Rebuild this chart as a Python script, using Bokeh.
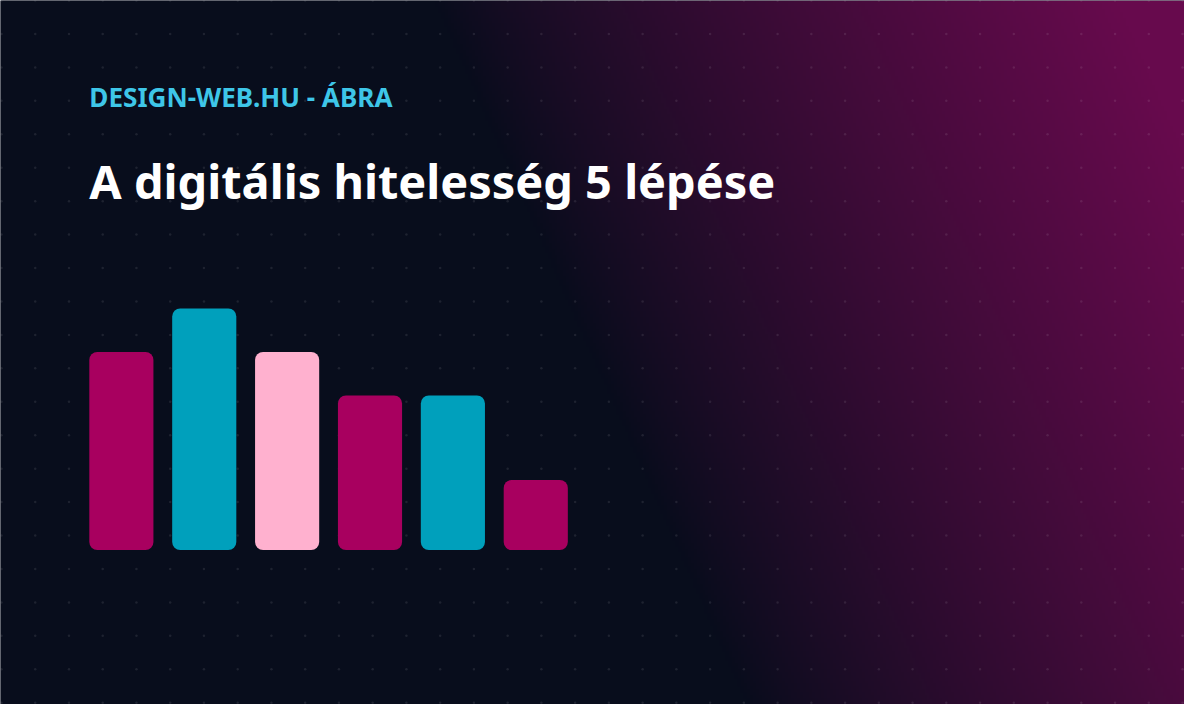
import numpy as np
from bokeh.plotting import figure
from bokeh.models import Range1d, Label
from bokeh.embed import file_html
from bokeh.resources import INLINE

# ---- data ----
categories = ["1", "2", "3", "4", "5", "6"]
values = [82, 100, 82, 64, 64, 29]
bar_colors = ["#a8005f", "#00a0bc", "#ffb1cf", "#a8005f", "#00a0bc", "#a8005f"]
kicker_text = "DESIGN-WEB.HU - ÁBRA"
title_text = "A digitális hitelesség 5 lépése"

# ---- layout constants (design pixels, 1200x720 design scaled into the figure) ----
PAGE_W, PAGE_H = 1200, 720
W, H = 1184, 704
S = W / PAGE_W
BAR_X0, BAR_STEP, BAR_W = 122.5, 84.0, 65.0
BASE_PAGE_Y = 562.0
PX_PER_UNIT = 2.47
FONT = "Noto Sans"
BASELINE_FIX = 0.43  # empirical offset of the label baseline, in em

p = figure(width=W, height=H, output_backend="svg", toolbar_location=None,
           x_range=Range1d(0, PAGE_W), y_range=Range1d(0, PAGE_H),
           min_border=0, outline_line_color=None)
p.axis.visible = False
p.grid.visible = False
p.background_fill_color = "#070d1c"
p.border_fill_color = "#070d1c"

# ranges for the bars
base_y = PAGE_H - BASE_PAGE_Y
p.extra_x_ranges = {"bx": Range1d(-BAR_X0 / BAR_STEP, (PAGE_W - BAR_X0) / BAR_STEP)}
p.extra_y_ranges = {"by": Range1d(-base_y / PX_PER_UNIT, (PAGE_H - base_y) / PX_PER_UNIT)}

# ---- background gradient ----
nx, ny = 400, 240
xs = (np.arange(nx) + 0.5) * PAGE_W / nx
ys = PAGE_H - (np.arange(ny) + 0.5) * PAGE_H / ny
X, Y = np.meshgrid(xs, ys)
t = np.clip((X - 440 - 0.44 * Y) / 690.0, 0, 1) ** 0.85
navy = np.array([8, 13, 28], dtype=float)
mag = np.array([103, 10, 77], dtype=float)
rgb = navy[None, None, :] * (1 - t[..., None]) + mag[None, None, :] * t[..., None]
img = np.empty((ny, nx), dtype=np.uint32)
view = img.view(dtype=np.uint8).reshape((ny, nx, 4))
view[..., 0] = rgb[..., 0].astype(np.uint8)
view[..., 1] = rgb[..., 1].astype(np.uint8)
view[..., 2] = rgb[..., 2].astype(np.uint8)
view[..., 3] = 255
p.image_rgba(image=[img], x=0, y=0, dw=PAGE_W, dh=PAGE_H)

# ---- dot pattern ----
gx = 1 + 34.2 * np.arange(36)
gy = 34.2 * np.arange(22)
GX, GY = np.meshgrid(gx, gy)
p.scatter(GX.ravel(), PAGE_H - GY.ravel(), size=2.5, marker="circle",
          fill_color="white", fill_alpha=0.09, line_color=None)

# ---- bars ----
idx = list(range(len(categories)))
p.vbar(x=idx, top=values, bottom=0, width=BAR_W / BAR_STEP,
       fill_color=bar_colors, line_color=None, border_radius=8,
       x_range_name="bx", y_range_name="by")

# ---- texts ----
def add_text(txt, x, baseline, size, color):
    p.add_layout(Label(x=x, y=PAGE_H - (baseline - BASELINE_FIX * size), text=txt,
                       text_font=FONT, text_font_size=f"{size * S:.1f}px",
                       text_font_style="bold", text_color=color,
                       text_baseline="alphabetic"))

add_text(kicker_text, 90, 110.5, 26.5, "#3ec6e8")
add_text(title_text, 90, 205.5, 47.5, "#ffffff")

open("out.html", "w").write(file_html(p, INLINE))
